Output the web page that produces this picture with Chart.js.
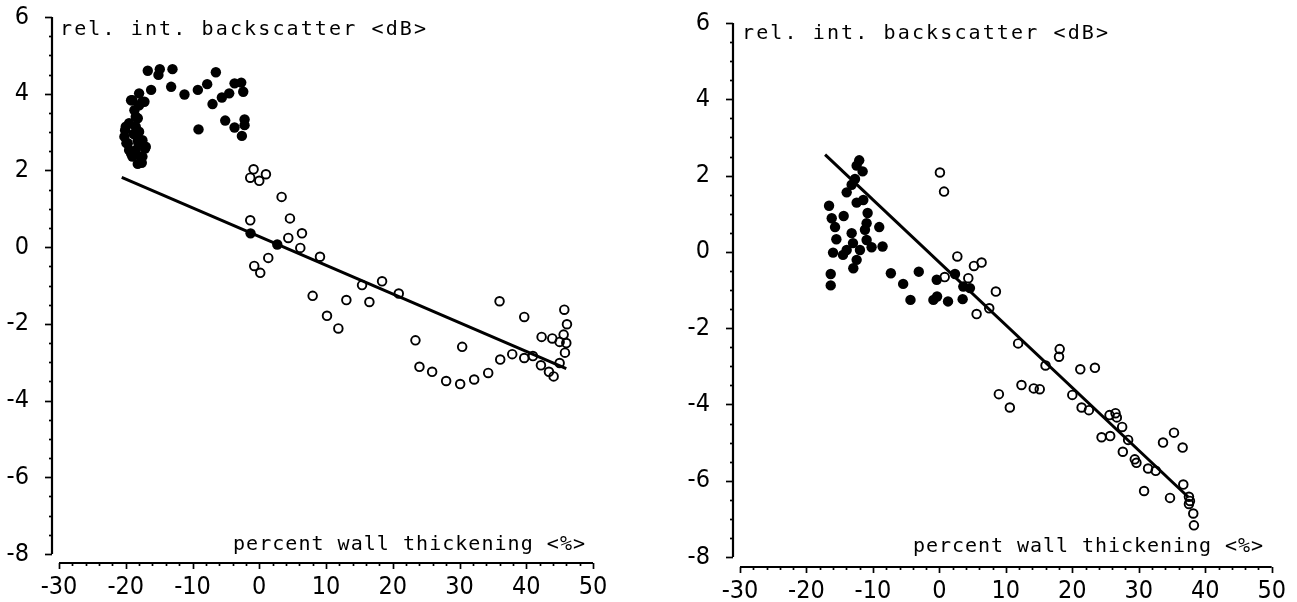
<!DOCTYPE html>
<html>
<head>
<meta charset="utf-8">
<script src="https://cdn.jsdelivr.net/npm/chart.js@4.4.1/dist/chart.umd.min.js"></script>
<style>
  html, body { margin: 0; padding: 0; background: #fff; }
  body { width: 1297px; height: 602px; position: relative; overflow: hidden; }
  canvas { position: absolute; top: 0; }
  #left { left: 0; }
  #right { left: 648px; }
</style>
</head>
<body>
<canvas id="left" width="648" height="602"></canvas>
<canvas id="right" width="649" height="602"></canvas>
<script>
// axis ranges and tick labels (shared by both panels)
const xTicks = [-30, -20, -10, 0, 10, 20, 30, 40, 50];
const yTicks = [-8, -6, -4, -2, 0, 2, 4, 6];
const yTitle = 'rel. int. backscatter <dB>';
const xTitle = 'percent wall thickening <%>';

// left panel: [percent wall thickening, backscatter dB]
const leftFilled = [
  [-16.7, 4.60], [-14.9, 4.64], [-15.1, 4.49], [-13.0, 4.64], [-6.5, 4.56], [-16.2, 4.10],
  [-13.2, 4.18], [-11.2, 3.98], [-9.2, 4.10], [-7.8, 4.25], [-7.0, 3.73], [-5.6, 3.90],
  [-4.5, 4.01], [-3.7, 4.27], [-2.7, 4.29], [-2.4, 4.05], [-9.1, 3.07], [-5.1, 3.30],
  [-3.7, 3.12], [-2.2, 3.33], [-2.2, 3.18], [-2.6, 2.90],
  [-18.0, 4.01], [-19.0, 3.83], [-17.5, 3.79], [-18.7, 3.57], [-18.2, 3.36], [-19.5, 3.23],
  [-20.1, 3.05], [-20.2, 2.88], [-19.9, 2.71], [-19.5, 2.53], [-19.0, 2.36], [-18.2, 2.17],
  [-17.7, 2.36], [-17.1, 2.57], [-17.5, 2.79], [-18.0, 3.01], [-18.5, 3.14], [-18.0, 3.70],
  [-18.5, 2.53], [-18.1, 2.71], [-19.2, 3.83], [-17.2, 3.79], [-18.5, 3.40], [-20.0, 3.14],
  [-19.7, 2.71], [-19.2, 2.44], [-17.0, 2.62], [-17.5, 2.36], [-18.2, 2.79], [-18.8, 2.95],
  [-17.6, 2.20], [-1.3, 0.36], [2.7, 0.07]
];
const leftOpen = [
  [-0.85, 2.03], [-1.35, 1.81], [0.0, 1.73], [1.0, 1.90], [3.35, 1.31], [-1.35, 0.70],
  [4.6, 0.75], [6.4, 0.36], [4.35, 0.24], [6.15, -0.02], [9.1, -0.25], [1.35, -0.28],
  [-0.75, -0.49], [0.15, -0.67], [8.0, -1.27], [10.15, -1.79], [11.85, -2.12], [13.05, -1.38],
  [15.4, -0.99], [16.5, -1.43], [18.4, -0.89], [20.9, -1.21], [23.4, -2.43], [24.0, -3.12],
  [25.9, -3.25], [28.0, -3.49], [30.1, -3.57], [30.4, -2.60], [32.2, -3.45], [34.3, -3.28],
  [36.0, -1.41], [36.1, -2.93], [37.9, -2.79], [39.7, -1.82], [39.7, -2.89], [41.0, -2.84],
  [42.2, -3.08], [42.3, -2.34], [43.4, -3.25], [44.1, -3.37], [43.9, -2.38], [45.0, -3.02],
  [45.0, -2.47], [45.7, -1.63], [46.1, -2.01], [45.6, -2.28], [46.0, -2.50], [45.8, -2.75]
];
const leftFit = [[-20.6, 1.82], [46.0, -3.17]];

// right panel
const rightFilled = [
  [-12.06, 2.40], [-12.45, 2.26], [-11.55, 2.11], [-12.7, 1.91], [-13.2, 1.76], [-13.95, 1.56],
  [-12.45, 1.29], [-11.45, 1.36], [-16.6, 1.21], [-16.2, 0.88], [-14.4, 0.94], [-15.7, 0.65],
  [-15.5, 0.33], [-16.0, -0.02], [-14.5, -0.08], [-13.2, 0.49], [-13.0, 0.23], [-11.95, 0.05],
  [-10.95, 0.31], [-10.8, 1.02], [-10.95, 0.75], [-11.2, 0.58], [-9.05, 0.65], [-10.2, 0.12],
  [-8.55, 0.14], [-12.45, -0.21], [-12.95, -0.43], [-13.95, 0.05], [-16.35, -0.58], [-16.35, -0.88],
  [-7.3, -0.56], [-5.45, -0.84], [-3.1, -0.52], [-4.35, -1.26], [-0.9, -1.26], [-0.35, -1.17],
  [1.3, -1.30], [-0.4, -0.73], [2.35, -0.58], [3.5, -1.24], [3.6, -0.91], [4.6, -0.95]
];
const rightOpen = [
  [0.08, 2.08], [0.7, 1.58], [2.7, -0.12], [5.2, -0.37], [6.35, -0.28], [0.8, -0.66],
  [4.35, -0.69], [5.6, -1.63], [7.5, -1.48], [8.5, -1.04], [11.85, -2.40], [15.97, -2.98],
  [18.1, -2.55], [18.0, -2.75], [21.2, -3.08], [23.4, -3.04], [8.95, -3.73], [12.35, -3.49],
  [14.2, -3.58], [15.1, -3.60], [20.0, -3.75], [10.6, -4.08], [21.4, -4.08], [22.5, -4.15],
  [25.6, -4.28], [26.5, -4.23], [26.7, -4.34], [27.5, -4.59], [24.4, -4.86], [25.7, -4.83],
  [28.4, -4.93], [27.6, -5.24], [29.4, -5.44], [29.65, -5.53], [31.4, -5.68], [32.55, -5.74],
  [30.8, -6.27], [33.65, -5.00], [35.3, -4.74], [36.6, -5.13], [34.7, -6.45], [36.7, -6.10],
  [37.55, -6.42], [37.7, -6.53], [37.55, -6.61], [38.2, -6.86], [38.3, -7.17]
];
const rightFit = [[-17.2, 2.55], [37.4, -6.42]];

const toXY = arr => arr.map(p => ({ x: p[0], y: p[1] }));

// draws the plotter-style axes, ticks and the two axis captions
const plotterAxes = {
  id: 'plotterAxes',
  afterDraw(chart, args, o) {
    const ctx = chart.ctx, xs = chart.scales.x, ys = chart.scales.y, a = chart.chartArea;
    ctx.save();
    ctx.strokeStyle = '#000';
    ctx.fillStyle = '#000';

    // y axis, a bit left of the plot area
    const ax = a.left - o.gap;
    ctx.lineWidth = 2.2;
    ctx.beginPath();
    ctx.moveTo(ax, ys.getPixelForValue(ys.max));
    ctx.lineTo(ax, ys.getPixelForValue(ys.min));
    ctx.stroke();
    ctx.lineWidth = 1.7;
    for (let v = ys.min; v <= ys.max + 1e-6; v += 0.5) {
      const py = Math.round(ys.getPixelForValue(v)) + 0.5;
      const len = Math.abs(v % 2) < 1e-6 ? 7 : 3;
      ctx.beginPath(); ctx.moveTo(ax, py); ctx.lineTo(ax - len, py); ctx.stroke();
    }

    // x axis, a bit below the plot area
    const ay = a.bottom + o.gap + o.xDrop;
    ctx.lineWidth = 2.2;
    ctx.beginPath();
    ctx.moveTo(xs.getPixelForValue(xs.min), ay);
    ctx.lineTo(xs.getPixelForValue(xs.max), ay);
    ctx.stroke();
    ctx.lineWidth = 1.7;
    for (let v = xs.min; v <= xs.max + 1e-6; v += 2) {
      const px = Math.round(xs.getPixelForValue(v)) + 0.5;
      const len = Math.abs(v % 10) < 1e-6 ? 6 : 3;
      ctx.beginPath(); ctx.moveTo(px, ay); ctx.lineTo(px, ay + len); ctx.stroke();
    }

    // captions, spaced out like plotter lettering
    ctx.font = '20px "DejaVu Sans Mono", monospace';
    ctx.textBaseline = 'alphabetic';
    ctx.textAlign = 'left';
    const spaced = (txt, x0, base, width) => {
      ctx.letterSpacing = '0px';
      const w = ctx.measureText(txt).width;
      const ls = (width - w) / (txt.length - 1);
      ctx.letterSpacing = ls + 'px';
      ctx.fillText(txt, x0, base);
    };
    spaced(yTitle, o.yTitleX, o.yTitleY, o.yTitleW);
    spaced(xTitle, o.xTitleEnd - o.xTitleW, o.xTitleY, o.xTitleW);
    ctx.restore();
  }
};

function makePanel(id, filled, open, fit, cfg) {
  const tickFont = { family: '"DejaVu Sans Condensed", "DejaVu Sans", sans-serif', size: 25 };
  new Chart(document.getElementById(id), {
    type: 'scatter',
    data: {
      datasets: [
        { data: toXY(fit), type: 'line', showLine: true, borderColor: '#000', borderWidth: 3,
          pointRadius: 0, fill: false, tension: 0 },
        { data: toXY(filled), pointRadius: 5.2, backgroundColor: '#000', borderColor: '#000', borderWidth: 0 },
        { data: toXY(open), pointRadius: 4.3, backgroundColor: 'rgba(0,0,0,0)', borderColor: '#000', borderWidth: 1.9 }
      ]
    },
    options: {
      responsive: false,
      animation: false,
      layout: { padding: { left: 0, right: cfg.padRight, top: cfg.padTop, bottom: 0 } },
      plugins: {
        legend: { display: false },
        tooltip: { enabled: false },
        plotterAxes: cfg.axes
      },
      scales: {
        x: {
          type: 'linear', min: xTicks[0], max: xTicks[xTicks.length - 1],
          afterBuildTicks: s => { s.ticks = xTicks.map(v => ({ value: v })); },
          afterFit: s => { s.height = cfg.xHeight; },
          grid: { display: false }, border: { display: false },
          ticks: { color: '#000', font: tickFont, padding: cfg.xPad, maxRotation: 0, autoSkip: false,
                   callback: v => String(v) }
        },
        y: {
          type: 'linear', min: yTicks[0], max: yTicks[yTicks.length - 1],
          afterBuildTicks: s => { s.ticks = yTicks.map(v => ({ value: v })); },
          // keep the label padding from pushing the plot area down
          afterFit: s => { s.width = cfg.yWidth; s.paddingTop = 0; s.paddingBottom = 0; },
          grid: { display: false }, border: { display: false },
          ticks: { color: '#000', font: tickFont, padding: 22, autoSkip: false,
                   callback: v => String(v) }
        }
      }
    },
    plugins: [plotterAxes]
  });
}

makePanel('left', leftFilled, leftOpen, leftFit, {
  padRight: 55, padTop: 17, xHeight: 48, yWidth: 59, xPad: 10,
  axes: { gap: 7, xDrop: 2, yTitleX: 60, yTitleY: 35, yTitleW: 366,
          xTitleEnd: 585, xTitleY: 550, xTitleW: 352 }
});
makePanel('right', rightFilled, rightOpen, rightFit, {
  padRight: 25, padTop: 23, xHeight: 45, yWidth: 92, xPad: 11,
  axes: { gap: 7, xDrop: 3, yTitleX: 94, yTitleY: 39, yTitleW: 366,
          xTitleEnd: 615, xTitleY: 552, xTitleW: 350 }
});
</script>
</body>
</html>
